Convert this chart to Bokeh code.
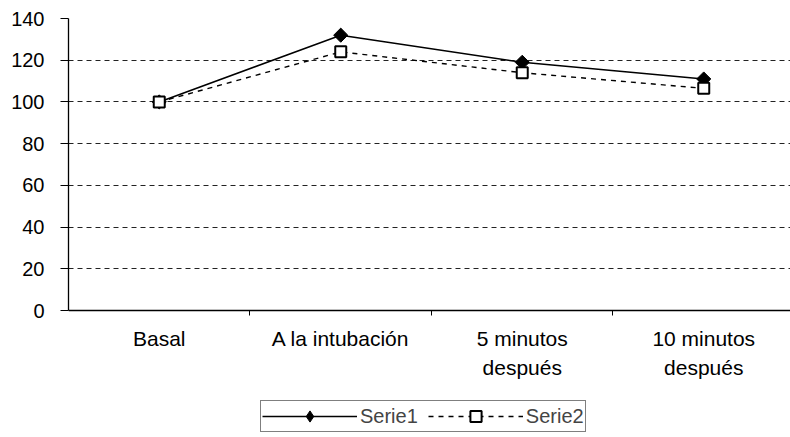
from bokeh.plotting import figure
from bokeh.models import (Range1d, FixedTicker, Legend, LegendItem, ColumnDataSource, Grid)
from bokeh.embed import file_html
from bokeh.resources import INLINE

categories = ["Basal", "A la intubación", "5 minutos\ndespués", "10 minutos\ndespués"]
serie1 = [100, 132, 119, 111]
serie2 = [100, 124, 114, 106.5]
y_ticks = [0, 20, 40, 60, 80, 100, 120, 140]

xpos = [i + 0.5 for i in range(len(categories))]
src = ColumnDataSource(dict(x=xpos, s1=serie1, s2=serie2))

FONT = "Liberation Sans"

# frame extends to the bottom of the page so that the category labels and the
# legend can sit below the zero line; 0 maps to y=310 and 140 to y=18.
Y_BOTTOM = -127 * 140 / 292

p = figure(width=790, height=437, output_backend="svg", toolbar_location=None,
           x_range=Range1d(0, 3.978), y_range=Range1d(Y_BOTTOM, 140),
           min_border_left=68, min_border_top=18, min_border_right=0,
           min_border_bottom=0)
p.outline_line_color = None
p.background_fill_color = "white"
p.border_fill_color = "white"

# grid
p.xgrid.grid_line_color = None
p.ygrid.ticker = FixedTicker(ticks=y_ticks[:-1])
p.ygrid.grid_line_color = "#222222"
p.ygrid.grid_line_dash = "5 4"
p.ygrid.grid_line_width = 1
top_grid = Grid(dimension=1, ticker=FixedTicker(ticks=y_ticks[-1:]),
                grid_line_color="#b0b0b0", grid_line_dash="8 3 2 3", grid_line_width=1)
p.add_layout(top_grid)

# y axis
p.yaxis.ticker = FixedTicker(ticks=y_ticks)
p.yaxis.bounds = (0, 140)
p.yaxis.axis_line_color = "black"
p.yaxis.axis_line_width = 1.3
p.yaxis.major_tick_in = 0
p.yaxis.major_tick_out = 8
p.yaxis.minor_tick_line_color = None
p.yaxis.major_label_text_font = FONT
p.yaxis.major_label_text_font_size = "20px"
p.yaxis.major_label_text_color = "black"
p.yaxis.major_label_standoff = 16

# x axis, drawn at y = 0
p.xaxis.fixed_location = 0
p.xaxis.ticker = FixedTicker(ticks=xpos, minor_ticks=[1, 2, 3])
p.xaxis.major_label_overrides = {x: c for x, c in zip(xpos, categories)}
p.xaxis.major_tick_line_color = None
p.xaxis.major_tick_in = 0
p.xaxis.major_tick_out = 0
p.xaxis.minor_tick_in = 0
p.xaxis.minor_tick_out = 5
p.xaxis.minor_tick_line_color = "black"
p.xaxis.axis_line_color = "black"
p.xaxis.axis_line_width = 1.3
p.xaxis.major_label_text_font = FONT
p.xaxis.major_label_text_font_size = "21px"
p.xaxis.major_label_text_line_height = 1.3
p.xaxis.major_label_text_color = "black"
p.xaxis.major_label_standoff = 11

l1 = p.line("x", "s1", source=src, line_color="black", line_width=1.5)
m1 = p.scatter("x", "s1", source=src, marker="square", angle=0.785398, size=10,
               fill_color="black", line_color="black")
# diamond used only for the legend swatch (legend swatches ignore marker angle)
m1_key = p.scatter("x", "s1", source=src, marker="diamond", size=16,
                   fill_color="black", line_color="black", visible=False)
l2 = p.line("x", "s2", source=src, line_color="black", line_width=1.4, line_dash="5 5")
m2 = p.scatter("x", "s2", source=src, marker="square", size=11,
               fill_color="white", line_color="black", line_width=2)

legend = Legend(items=[LegendItem(label="Serie1", renderers=[l1, m1_key]),
                       LegendItem(label="Serie2", renderers=[l2, m2])],
                orientation="horizontal", location=(192, 5),
                border_line_color="black", border_line_width=1.2,
                label_text_font=FONT, label_text_font_size="20px",
                glyph_width=95, glyph_height=28, spacing=10,
                label_standoff=3, padding=1, margin=0)
p.add_layout(legend, "center")

open("out.html", "w").write(file_html(p, INLINE))
